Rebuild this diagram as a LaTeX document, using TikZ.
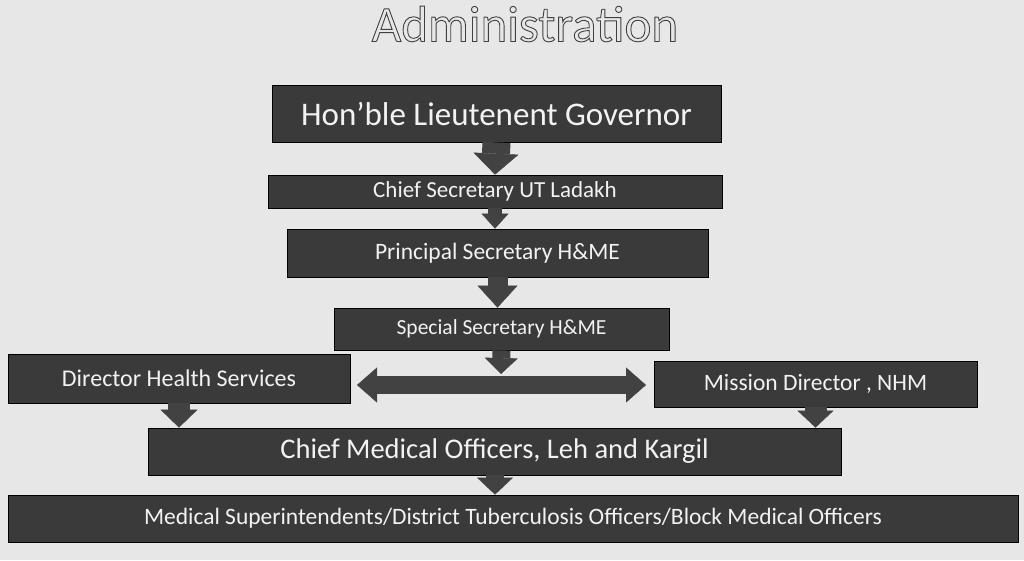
\documentclass[tikz,border=0pt]{standalone}
\usepackage{fontspec}
\setmainfont{Carlito}
\usetikzlibrary{arrows.meta}
\definecolor{paper}{RGB}{231,231,231}
\definecolor{boxgray}{RGB}{58,58,58}
\definecolor{arrgray}{RGB}{66,66,66}
\definecolor{inkwhite}{RGB}{242,242,242}
\newcommand{\hollowtext}[1]{\special{pdf:literal direct 1 Tr 0.9 w}#1\special{pdf:literal direct 0 Tr}}
\tikzset{
  post/.style n args={3}{draw=black, fill=boxgray, thick, inner sep=0pt, text=inkwhite,
    minimum width=#1, minimum height=#2, font=\fontsize{#3}{#3}\selectfont},
  flow/.style n args={3}{draw=arrgray, line width=#1,
    -{Triangle[width=#2, length=#3, line width=0.4pt]}},
  twoway/.style n args={3}{draw=arrgray, line width=#1,
    {Triangle[width=#2, length=#3, line width=0.4pt]}-{Triangle[width=#2, length=#3, line width=0.4pt]}},
  headline/.style={font=\fontsize{51}{51}\selectfont, inner sep=0pt, text=black!75}
}
\begin{document}
\begin{tikzpicture}[x=1pt, y=-1pt]
      \fill[paper] (0,0) rectangle (1024,560);
      \useasboundingbox (0,0) rectangle (1024,560);
      \node[headline] (title) at (525,24) {\hollowtext{Administration}};

      \node[post={449pt}{57pt}{33}] (gov) at (496.5,113.5) {Hon’ble Lieutenent Governor};
      \node[post={454pt}{33pt}{23}] (cs) at (495,191.5) {Chief Secretary UT Ladakh};
      \node[post={421pt}{48pt}{23.5}] (ps) at (497.5,253) {Principal Secretary H\&ME};
      \node[post={335pt}{42pt}{21.5}] (ss) at (501.5,329) {Special Secretary H\&ME};
      \node[post={342pt}{49pt}{24}] (dhs) at (179,378.5) {Director Health Services};
      \node[post={323pt}{46pt}{23.5}] (md) at (815.5,384) {Mission Director , NHM};
      \node[post={693pt}{47pt}{28.5}] (cmo) at (494.5,451.5) {Chief Medical Officers, Leh and Kargil};
      \node[post={1010pt}{47pt}{23.5}] (ms) at (513,518.5) {Medical Superintendents/District Tuberculosis Officers/Block Medical Officers};

      \coordinate (hub) at (501,374);
      \coordinate (lend) at (357,385);
      \coordinate (rend) at (646,385);

      \draw[flow={28pt}{45pt}{21pt}] (gov.south) -- (cs.north);
      \draw[flow={14pt}{27pt}{15pt}] (cs.south) -- (cs.south |- ps.north);
      \draw[flow={20pt}{40pt}{22pt}] (ps.south) -- (ps.south |- ss.north);
      \draw[flow={18pt}{33pt}{16pt}] (ss.south) -- (hub);
      \draw[twoway={18pt}{35pt}{20pt}] (lend) -- (rend);
      \draw[flow={22pt}{37pt}{18pt}] (dhs.south) -- (dhs.south |- cmo.north);
      \draw[flow={22pt}{36pt}{17pt}] (md.south) -- (md.south |- cmo.north);
      \draw[flow={18pt}{36pt}{17pt}] (cmo.south -| 495,0) -- (ms.north -| 495,0);
\end{tikzpicture}
\end{document}
